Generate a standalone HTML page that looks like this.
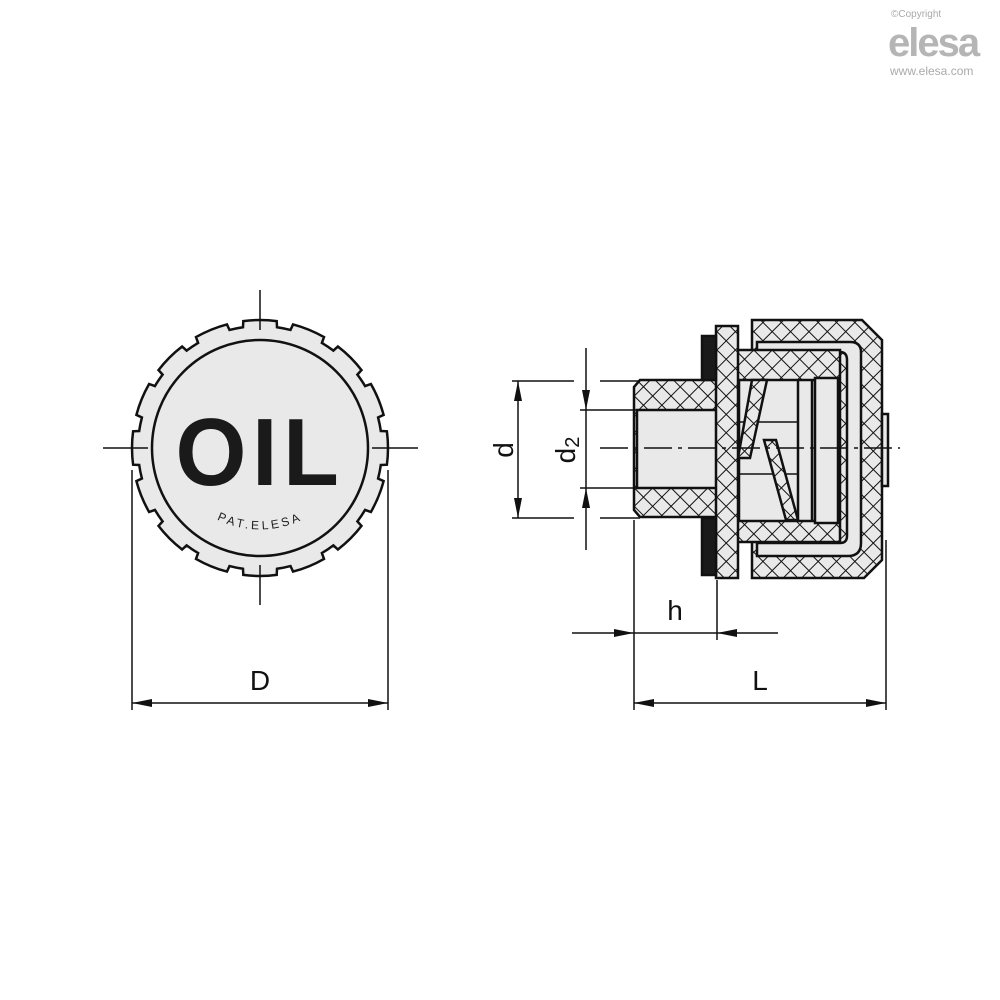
<!DOCTYPE html>
<html><head><meta charset="utf-8"><style>
html,body{margin:0;padding:0;background:#fff;}
svg{display:block}
text{font-family:"Liberation Sans",sans-serif}
</style></head><body>
<svg width="1000" height="1000" viewBox="0 0 1000 1000" xmlns="http://www.w3.org/2000/svg">
<defs>
<pattern id="h" width="13" height="13" patternUnits="userSpaceOnUse" patternTransform="rotate(45)">
<rect width="13" height="13" fill="#e9e9e9"/>
<line x1="0" y1="0" x2="0" y2="13" stroke="#111" stroke-width="2"/>
<line x1="0" y1="0" x2="13" y2="0" stroke="#111" stroke-width="2"/>
</pattern>
<marker id="a" viewBox="0 0 20 8" refX="20" refY="4" markerWidth="20" markerHeight="8" markerUnits="userSpaceOnUse" orient="auto-start-reverse">
<path d="M0,0 L20,4 L0,8 z" fill="#111"/></marker>
<path id="arc" d="M190,500 A98,98 0 0,0 330,500"/>
</defs>

<!-- logo -->
<text x="891" y="17" font-size="10" fill="#aaa">©Copyright</text>
<text x="888" y="56" font-size="40" font-weight="bold" fill="#b5b5b5" letter-spacing="-2">elesa</text>
<text x="890" y="75" font-size="12" fill="#aaa">www.elesa.com</text>

<!-- LEFT VIEW -->
<g stroke="#111" stroke-width="2.5" fill="#e9e9e9">
<path id="gear" d=""/>
<circle cx="260" cy="448" r="108" fill="#e9e9e9"/>
</g>
<g stroke="#111" stroke-width="1.5">
<line x1="103" y1="448" x2="148" y2="448"/>
<line x1="372" y1="448" x2="418" y2="448"/>
<line x1="260" y1="290" x2="260" y2="330"/>
<line x1="260" y1="565" x2="260" y2="605"/>
<line x1="132" y1="470" x2="132" y2="710"/>
<line x1="388" y1="470" x2="388" y2="710"/>
<line x1="132" y1="703" x2="388" y2="703" marker-start="url(#a)" marker-end="url(#a)"/>
</g>
<text x="260" y="485" font-size="96" font-weight="bold" text-anchor="middle" fill="#1a1a1a" letter-spacing="6" transform="translate(260,0) scale(0.95,1) translate(-260,0)">OIL</text>
<text font-size="12" fill="#222" letter-spacing="3"><textPath href="#arc" startOffset="50%" text-anchor="middle">PAT.ELESA</textPath></text>
<text x="260" y="690" font-size="28" text-anchor="middle" fill="#111">D</text>

<!-- RIGHT VIEW -->
<g stroke="#111" stroke-width="2.5">
<path d="M752,320 H862 L882,340 V560 L864,578 H752 Z" fill="url(#h)"/>
<path d="M757,556 H848 Q861,556 861,543 V352 Q861,342 850,342 H757 V352 H840 Q847,352 847,360 V536 Q847,543 840,543 H757 Z" fill="#e9e9e9"/>
<rect x="882" y="414" width="6" height="72" fill="#e9e9e9"/>
<rect x="737" y="350" width="103" height="192" fill="url(#h)"/>
<rect x="739" y="380" width="99" height="141" fill="#e9e9e9"/>
<line x1="798" y1="380" x2="798" y2="521"/>
<line x1="812" y1="380" x2="812" y2="521"/>
<rect x="815" y="378" width="23" height="145" fill="#e9e9e9"/>
<line x1="739" y1="422" x2="798" y2="422" stroke-width="1.5"/>
<line x1="739" y1="474" x2="798" y2="474" stroke-width="1.5"/>
<polygon points="752,380 767,380 750,458 738,458" fill="url(#h)"/>
<polygon points="764,440 776,440 798,520 786,520" fill="url(#h)"/>
<path d="M640,380 H737 V517 H640 L634,510 V387 Z" fill="url(#h)"/>
<rect x="637" y="410" width="90" height="78" fill="#e9e9e9"/>
<rect x="716" y="326" width="22" height="252" fill="url(#h)"/>
<rect x="702" y="336" width="14" height="44" fill="#1a1a1a"/>
<rect x="702" y="518" width="14" height="57" fill="#1a1a1a"/>
</g>
<g stroke="#111" stroke-width="1.5" fill="none">
<line x1="600" y1="448" x2="900" y2="448" stroke-dasharray="28,6,4,6"/>
<line x1="512" y1="381" x2="574" y2="381"/><line x1="600" y1="381" x2="640" y2="381"/>
<line x1="512" y1="518" x2="574" y2="518"/><line x1="600" y1="518" x2="640" y2="518"/>
<line x1="580" y1="410" x2="640" y2="410"/>
<line x1="580" y1="488" x2="640" y2="488"/>
<line x1="518" y1="381" x2="518" y2="518" marker-start="url(#a)" marker-end="url(#a)"/>
<line x1="586" y1="348" x2="586" y2="410" marker-end="url(#a)"/>
<line x1="586" y1="550" x2="586" y2="488" marker-end="url(#a)"/>
<line x1="586" y1="410" x2="586" y2="488"/>
<line x1="634" y1="520" x2="634" y2="710"/>
<line x1="717" y1="580" x2="717" y2="640"/>
<line x1="886" y1="540" x2="886" y2="710"/>
<line x1="572" y1="633" x2="634" y2="633" marker-end="url(#a)"/>
<line x1="778" y1="633" x2="717" y2="633" marker-end="url(#a)"/>
<line x1="634" y1="633" x2="717" y2="633"/>
<line x1="634" y1="703" x2="886" y2="703" marker-start="url(#a)" marker-end="url(#a)"/>
</g>
<text x="675" y="620" font-size="28" text-anchor="middle" fill="#111">h</text>
<text x="760" y="690" font-size="28" text-anchor="middle" fill="#111">L</text>
<text transform="translate(513,450) rotate(-90)" font-size="28" text-anchor="middle" fill="#111">d</text>
<text transform="translate(575,450) rotate(-90)" font-size="28" text-anchor="middle" fill="#111">d<tspan font-size="20" dy="4">2</tspan></text>
</svg>
<script>
(function(){var cx=260,cy=448,d="",R=128,r=122,n=16;
function P(rr,a){a=(a-90)*Math.PI/180;return (cx+rr*Math.cos(a)).toFixed(1)+","+(cy+rr*Math.sin(a)).toFixed(1);}
for(var i=0;i<n;i++){var c=i*360/n,hl=7.5,step=360/n;
d+=(i?"L":"M")+P(R,c-hl)+" A"+R+","+R+" 0 0,1 "+P(R,c+hl)+" L"+P(r,c+hl+0.5)+" A"+r+","+r+" 0 0,1 "+P(r,c+step-hl-0.5)+" ";}
d+="Z";document.getElementById('gear').setAttribute('d',d);})();
</script>
</body></html>
